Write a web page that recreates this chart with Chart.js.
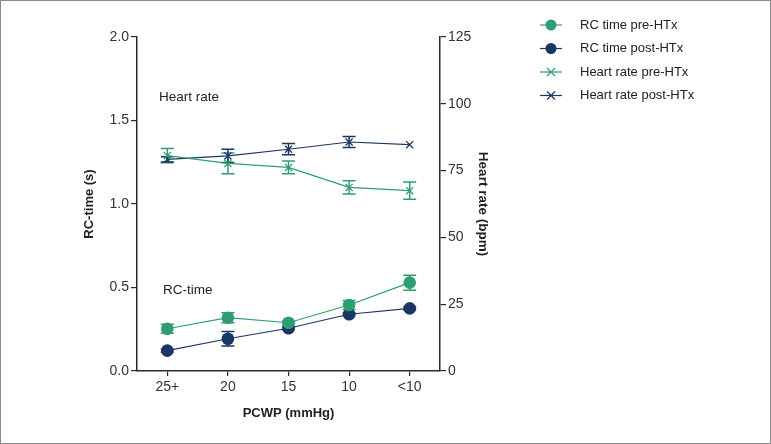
<!DOCTYPE html>
<html>
<head>
<meta charset="utf-8">
<script src="https://cdn.jsdelivr.net/npm/chart.js@4/dist/chart.umd.min.js"></script>
<style>
  html, body { margin: 0; padding: 0; background: #fff; }
  #wrap { position: relative; width: 771px; height: 444px; box-sizing: border-box; border: 1px solid #8a8a8a; }
  canvas { display: block; }
</style>
</head>
<body>
<div id="wrap"><canvas id="chart" width="769" height="442"></canvas></div>
<script>
const categories = ["25+", "20", "15", "10", "<10"];
const rcPre = [0.253, 0.319, 0.289, 0.395, 0.529];
const rcPreErr = [0.027, 0.030, 0.010, 0.027, 0.045];
const rcPost = [0.122, 0.193, 0.256, 0.340, 0.375];
const rcPostErr = [0.008, 0.044, 0.008, 0.008, 0.008];
const hrPre = [80.6, 77.7, 76.2, 68.7, 67.5];
const hrPreErr = [2.7, 3.9, 2.4, 2.5, 3.2];
const hrPost = [79.2, 80.5, 83.0, 85.7, 84.7];
const hrPostErr = [1.0, 2.5, 2.1, 2.1, 0];
const leftTicks = [0, 0.5, 1.0, 1.5, 2.0];
const rightTicks = [0, 25, 50, 75, 100, 125];

const green = '#2e9e72';
const navy = '#1b3664';
const axisColor = '#2b2b2b';
const font = '"Liberation Sans", Arial, sans-serif';

// error bars drawn through the scales
const errorBars = {
  id: 'errorBars',
  beforeDatasetsDraw(chart) {
    const ctx = chart.ctx;
    chart.data.datasets.forEach((ds, i) => {
      if (!ds.errors) return;
      const ys = chart.scales[ds.yAxisID];
      const xs = chart.scales.x;
      ctx.save();
      ctx.strokeStyle = ds.borderColor;
      ctx.lineWidth = 1.5;
      ds.data.forEach((v, j) => {
        const e = ds.errors[j];
        if (!e) return;
        const x = xs.getPixelForValue(j);
        const y1 = ys.getPixelForValue(v - e);
        const y2 = ys.getPixelForValue(v + e);
        ctx.beginPath();
        ctx.moveTo(x, y1); ctx.lineTo(x, y2);
        ctx.moveTo(x - 6.5, y1); ctx.lineTo(x + 6.5, y1);
        ctx.moveTo(x - 6.5, y2); ctx.lineTo(x + 6.5, y2);
        ctx.stroke();
      });
      ctx.restore();
    });
  }
};

// labels inside the plot and the legend
const extras = {
  id: 'extras',
  afterDraw(chart) {
    const ctx = chart.ctx;
    ctx.save();
    ctx.fillStyle = '#222';
    ctx.font = '13.5px ' + font;
    ctx.textBaseline = 'middle';
    ctx.fillText('Heart rate', 158, 96);
    ctx.fillText('RC-time', 162, 289);

    const items = [
      { label: 'RC time pre-HTx', color: green, style: 'circle' },
      { label: 'RC time post-HTx', color: navy, style: 'circle' },
      { label: 'Heart rate pre-HTx', color: green, style: 'cross' },
      { label: 'Heart rate post-HTx', color: navy, style: 'cross' }
    ];
    ctx.font = '13px ' + font;
    items.forEach((it, k) => {
      const y = 24 + k * 23.5;
      ctx.strokeStyle = it.color;
      ctx.fillStyle = it.color;
      ctx.lineWidth = 1.2;
      ctx.beginPath();
      ctx.moveTo(539, y); ctx.lineTo(561, y);
      ctx.stroke();
      if (it.style === 'circle') {
        ctx.beginPath();
        ctx.arc(550, y, 5.5, 0, Math.PI * 2);
        ctx.fill();
      } else {
        ctx.beginPath();
        ctx.moveTo(546, y - 4); ctx.lineTo(554, y + 4);
        ctx.moveTo(546, y + 4); ctx.lineTo(554, y - 4);
        ctx.stroke();
      }
      ctx.fillStyle = '#222';
      ctx.fillText(it.label, 579, y);
    });
    ctx.restore();
  }
};

new Chart(document.getElementById('chart'), {
  type: 'line',
  data: {
    labels: categories,
    datasets: [
      {
        label: 'RC time pre-HTx', data: rcPre, errors: rcPreErr, yAxisID: 'y',
        borderColor: green, backgroundColor: green, borderWidth: 1.2,
        pointStyle: 'circle', pointRadius: 6.3, pointBackgroundColor: green, pointBorderWidth: 0
      },
      {
        label: 'RC time post-HTx', data: rcPost, errors: rcPostErr, yAxisID: 'y',
        borderColor: navy, backgroundColor: navy, borderWidth: 1.2,
        pointStyle: 'circle', pointRadius: 6.3, pointBackgroundColor: navy, pointBorderWidth: 0
      },
      {
        label: 'Heart rate pre-HTx', data: hrPre, errors: hrPreErr, yAxisID: 'y2',
        borderColor: green, backgroundColor: green, borderWidth: 1.2,
        pointStyle: 'crossRot', pointRadius: 5, pointBorderWidth: 1.3
      },
      {
        label: 'Heart rate post-HTx', data: hrPost, errors: hrPostErr, yAxisID: 'y2',
        borderColor: navy, backgroundColor: navy, borderWidth: 1.2,
        pointStyle: 'crossRot', pointRadius: 5, pointBorderWidth: 1.3
      }
    ]
  },
  options: {
    responsive: false,
    animation: false,
    layout: { padding: { left: 0, top: 36, right: 230, bottom: 0 } },
    plugins: { legend: { display: false }, tooltip: { enabled: false } },
    scales: {
      x: {
        offset: true,
        grid: { display: true, drawOnChartArea: false, tickLength: 5, color: axisColor, lineWidth: 1.2 },
        border: { color: axisColor, width: 1.5 },
        ticks: { color: '#333', font: { family: font, size: 14 }, padding: 3 },
        title: { display: true, text: 'PCWP (mmHg)', color: '#222', font: { family: font, size: 13, weight: 'bold' }, padding: { top: 0, bottom: 22 } },
        afterFit(s) { s.height = 72; }
      },
      y: {
        position: 'left', min: 0, max: 2.0,
        afterBuildTicks(s) { s.ticks = leftTicks.map(v => ({ value: v })); },
        grid: { display: true, drawOnChartArea: false, tickLength: 6, color: axisColor, lineWidth: 1.2 },
        border: { color: axisColor, width: 1.5 },
        ticks: { color: '#333', font: { family: font, size: 14 }, padding: 2, callback: v => v.toFixed(1) },
        title: { display: true, text: 'RC-time (s)', color: '#222', font: { family: font, size: 13, weight: 'bold' }, padding: { top: 81, bottom: 0 } },
        afterFit(s) { s.width = 136; }
      },
      y2: {
        position: 'right', min: 0, max: 125,
        afterBuildTicks(s) { s.ticks = rightTicks.map(v => ({ value: v })); },
        grid: { display: true, drawOnChartArea: false, tickLength: 6, color: axisColor, lineWidth: 1.2 },
        border: { color: axisColor, width: 1.5 },
        ticks: { color: '#333', font: { family: font, size: 14 }, padding: 2 },
        title: { display: true, text: 'Heart rate (bpm)', color: '#222', font: { family: font, size: 13.5, weight: 'bold' }, padding: { top: 49, bottom: 0 } },
        afterFit(s) { s.width = 100; }
      }
    }
  },
  plugins: [errorBars, extras]
});
</script>
</body>
</html>
